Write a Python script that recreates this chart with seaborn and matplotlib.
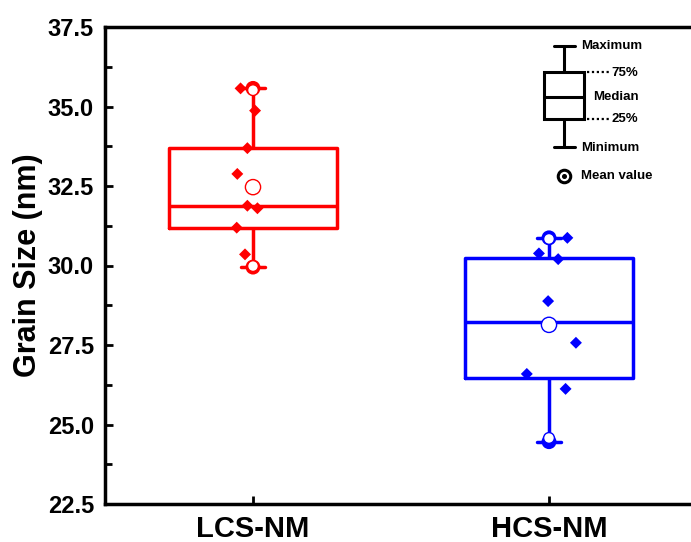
import numpy as np
import pandas as pd
import matplotlib
matplotlib.use("Agg")
import matplotlib.pyplot as plt
from matplotlib.lines import Line2D
from matplotlib.patches import Rectangle
from matplotlib.ticker import AutoMinorLocator
import seaborn as sns

# Grain size measurements (nm) for the two samples
categories = ["LCS-NM", "HCS-NM"]
lcs_sizes = [35.57, 34.87, 33.69, 32.88, 31.88, 31.80, 31.19, 30.35, 29.95]
hcs_sizes = [30.87, 30.38, 30.20, 28.88, 27.57, 26.59, 26.12, 24.46]
colors = ["#ff0000", "#0000ff"]
y_ticks = [22.5, 25.0, 27.5, 30.0, 32.5, 35.0, 37.5]

# horizontal spread of the individual measurements around each box centre
lcs_jitter = [-0.042, 0.007, -0.019, -0.053, -0.019, 0.015, -0.055, -0.027, 0.0]
hcs_jitter = [0.062, -0.034, 0.031, -0.003, 0.091, -0.075, 0.056, 0.0]

df = pd.DataFrame({
    "group": [categories[0]] * len(lcs_sizes) + [categories[1]] * len(hcs_sizes),
    "pos": [0] * len(lcs_sizes) + [1] * len(hcs_sizes),
    "size": lcs_sizes + hcs_sizes,
    "jitter": lcs_jitter + hcs_jitter,
})
df["xj"] = df["pos"] + df["jitter"]

sns.set_theme(style="ticks")
plt.rcParams["font.family"] = ["Liberation Sans", "DejaVu Sans"]
plt.rcParams["font.weight"] = "bold"
plt.rcParams["axes.labelweight"] = "bold"
for key in ("text.color", "axes.labelcolor", "xtick.color", "ytick.color",
            "axes.edgecolor"):
    plt.rcParams[key] = "black"

W, H = 691, 542
fig = plt.figure(figsize=(W / 100, H / 100), dpi=100)
ax = fig.add_axes([105 / W, 38 / H, 592 / W, 477 / H])

sns.boxplot(data=df, x="pos", y="size", hue="group", hue_order=categories,
            palette=colors, native_scale=True, fill=False, width=0.565,
            whis=(0, 100), showfliers=False, linewidth=2.5, dodge=False,
            legend=False, ax=ax, capwidths=0.08)

# individual measurements
sns.scatterplot(data=df, x="xj", y="size", hue="group", hue_order=categories,
                palette=colors, marker="D", s=37, linewidth=0, legend=False,
                ax=ax, zorder=3)

g = df.groupby(["group", "pos"], sort=False)["size"]

# maximum / minimum markers
ext = pd.concat([g.max(), g.min()]).rename("size").reset_index()
sns.scatterplot(data=ext, x="pos", y="size", hue="group", hue_order=categories,
                palette=colors, marker="o", s=115, linewidth=0, legend=False,
                ax=ax, zorder=4)

def hollow_last(lw):
    pts = ax.collections[-1]
    ec = pts.get_facecolors()
    pts.set_edgecolors(ec)
    pts.set_facecolors("white")
    pts.set_linewidths(lw)

# 1% / 99% markers
pct = pd.concat([g.quantile(0.99), g.quantile(0.01)]).rename("size").reset_index()
sns.scatterplot(data=pct, x="pos", y="size", hue="group", hue_order=categories,
                palette=colors, marker="o", s=60, legend=False, ax=ax, zorder=5)
hollow_last(1.0)

# mean markers
means = g.mean().rename("size").reset_index()
sns.scatterplot(data=means, x="pos", y="size", hue="group", hue_order=categories,
                palette=colors, marker="o", s=120, legend=False, ax=ax, zorder=6)
hollow_last(1.0)

# axes styling
ax.set_xlim(-0.5, 1.5)
ax.set_ylim(y_ticks[0], y_ticks[-1])
ax.set_xticks(range(len(categories)), categories)
ax.set_yticks(y_ticks, [f"{t:.1f}" for t in y_ticks])
ax.yaxis.set_minor_locator(AutoMinorLocator(2))
ax.tick_params(axis="both", which="major", direction="in", length=6, width=2,
               color="black", top=False, right=False)
ax.tick_params(axis="both", which="minor", direction="in", length=5, width=2,
               color="black", top=False, right=False)
ax.tick_params(axis="y", labelsize=17, pad=8, labelcolor="black")
ax.tick_params(axis="x", labelsize=21, pad=8, labelcolor="black")
for lab in ax.get_xticklabels() + ax.get_yticklabels():
    lab.set_fontweight("bold")
ax.set_xlabel("")
ax.set_ylabel("Grain Size (nm)", fontsize=22, fontweight="bold", labelpad=3,
              color="black")
for sp in ax.spines.values():
    sp.set_visible(True)
    sp.set_linewidth(2.5)
    sp.set_color("black")

# box-chart key in the upper right
def fx(x):
    return x / W

def fy(y):
    return 1 - y / H

def seg(x0, y0, x1, y1, **kw):
    fig.add_artist(Line2D([fx(x0), fx(x1)], [fy(y0), fy(y1)],
                          color="black", **kw))

fig.add_artist(Rectangle((fx(544.3), fy(119.3)), 40 / W, 47 / H, fill=False,
                         edgecolor="black", linewidth=2.2))
seg(544.3, 96.7, 584.3, 96.7, lw=2.2)
seg(564.3, 72.3, 564.3, 45.7, lw=2.2)
seg(564.3, 119.3, 564.3, 147.3, lw=2.2)
seg(554, 45.7, 574.6, 45.7, lw=2.2)
seg(554, 147.3, 574.6, 147.3, lw=2.2)
seg(587, 72.3, 608.5, 72.3, lw=1.6, ls=(0, (1, 1.2)))
seg(587, 119.3, 608.5, 119.3, lw=1.6, ls=(0, (1, 1.2)))

key_font = dict(fontsize=9.5, fontweight="bold", va="center", ha="left",
                color="black")
fig.text(fx(581), fy(46), "Maximum", **key_font)
fig.text(fx(611), fy(72.5), "75%", **key_font)
fig.text(fx(593), fy(97), "Median", **key_font)
fig.text(fx(611), fy(119.5), "25%", **key_font)
fig.text(fx(581), fy(148), "Minimum", **key_font)
fig.add_artist(Line2D([fx(564.3)], [fy(175.7)], marker="o", markersize=9,
                      markerfacecolor="white", markeredgecolor="black",
                      markeredgewidth=2.2))
fig.add_artist(Line2D([fx(564.3)], [fy(175.7)], marker="o", markersize=2.6,
                      color="black"))
fig.text(fx(581), fy(176), "Mean value", **key_font)

fig.savefig("out.png", dpi=100)
